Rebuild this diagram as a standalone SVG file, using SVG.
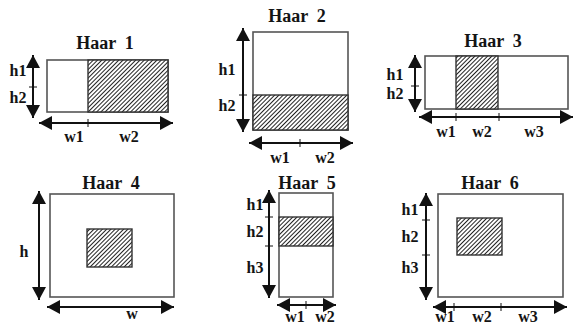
<svg xmlns="http://www.w3.org/2000/svg" width="574" height="326" viewBox="0 0 574 326">
<style>
text{font-family:"Liberation Serif","Times New Roman",serif;font-weight:bold;fill:#141414;text-anchor:middle}
.t{font-size:18px}
.l{font-size:16px}
.box{fill:#fff;stroke:#555;stroke-width:1.6}
.hat{fill:url(#hatch);stroke:#333;stroke-width:1.4}
.arr{stroke:#111;stroke-width:2;fill:none;marker-start:url(#ah);marker-end:url(#ah)}
.tk{stroke:#111;stroke-width:1}
</style>
<defs>
<pattern id="hatch" patternUnits="userSpaceOnUse" width="3" height="3" patternTransform="rotate(45)">
<rect width="3" height="3" fill="#fff"/>
<line x1="0.5" y1="0" x2="0.5" y2="3" stroke="#222" stroke-width="1"/>
</pattern>
<marker id="ah" markerUnits="userSpaceOnUse" markerWidth="14" markerHeight="14" refX="13" refY="7" orient="auto-start-reverse">
<path d="M0,0 L13,7 L0,14 Z" fill="#111"/>
</marker>
</defs>
<g id="haar1">
<text class="t" x="105" y="49" xml:space="preserve">Haar  1</text>
<rect class="box" x="47" y="60" width="121" height="52"/>
<rect class="hat" x="88" y="60" width="80" height="52"/>
</g>
<g id="haar2">
<text class="t" x="297" y="22" xml:space="preserve">Haar  2</text>
<rect class="box" x="253" y="32" width="95" height="98"/>
<rect class="hat" x="253" y="95" width="95" height="35"/>
</g>
<g id="haar3">
<text class="t" x="493" y="47" xml:space="preserve">Haar  3</text>
<rect class="box" x="425" y="56" width="143" height="53"/>
<rect class="hat" x="456" y="56" width="42" height="53"/>
</g>
<g id="haar4">
<text class="t" x="111" y="189" xml:space="preserve">Haar  4</text>
<rect class="box" x="50" y="194" width="124" height="103"/>
<rect class="hat" x="87" y="229" width="45" height="38"/>
</g>
<g id="haar5">
<text class="t" x="307" y="189" xml:space="preserve">Haar  5</text>
<rect class="box" x="279" y="193" width="54" height="104"/>
<rect class="hat" x="279" y="217" width="54" height="29"/>
</g>
<g id="haar6">
<text class="t" x="490" y="189" xml:space="preserve">Haar  6</text>
<rect class="box" x="438" y="194" width="125" height="103"/>
<rect class="hat" x="457" y="218" width="45" height="37"/>
</g>
<g id="connectors">
<line class="arr" x1="33" y1="55" x2="33" y2="118"/>
<line class="tk" x1="29" y1="87" x2="37" y2="87"/>
<line class="arr" x1="39" y1="123" x2="173" y2="123"/>
<line class="tk" x1="88" y1="119" x2="88" y2="127"/>

<line class="arr" x1="243" y1="28" x2="243" y2="132"/>
<line class="tk" x1="239" y1="95" x2="247" y2="95"/>
<line class="arr" x1="249" y1="143" x2="353" y2="143"/>
<line class="tk" x1="300" y1="139" x2="300" y2="147"/>

<line class="arr" x1="415" y1="55" x2="415" y2="112"/>
<line class="tk" x1="411" y1="86" x2="419" y2="86"/>
<line class="arr" x1="419" y1="117" x2="573" y2="117"/>
<line class="tk" x1="456" y1="113" x2="456" y2="121"/>
<line class="tk" x1="499" y1="113" x2="499" y2="121"/>

<line class="arr" x1="39" y1="191" x2="39" y2="300"/>
<line class="arr" x1="47" y1="307" x2="174" y2="307"/>

<line class="arr" x1="269" y1="190" x2="269" y2="298"/>
<line class="tk" x1="265" y1="217" x2="273" y2="217"/>
<line class="tk" x1="265" y1="246" x2="273" y2="246"/>
<line class="arr" x1="277" y1="305" x2="336" y2="305"/>
<line class="tk" x1="306" y1="301" x2="306" y2="309"/>

<line class="arr" x1="426" y1="193" x2="426" y2="300"/>
<line class="tk" x1="422" y1="220" x2="430" y2="220"/>
<line class="tk" x1="422" y1="255" x2="430" y2="255"/>
<line class="arr" x1="433" y1="307" x2="567" y2="307"/>
<line class="tk" x1="454" y1="303" x2="454" y2="311"/>
<line class="tk" x1="501" y1="303" x2="501" y2="311"/>
</g>
<g id="labels">
<text class="l" x="18" y="76">h1</text>
<text class="l" x="18" y="103">h2</text>
<text class="l" x="74" y="142">w1</text>
<text class="l" x="129" y="142">w2</text>

<text class="l" x="227" y="75">h1</text>
<text class="l" x="227" y="111">h2</text>
<text class="l" x="280" y="163">w1</text>
<text class="l" x="325" y="163">w2</text>

<text class="l" x="395" y="80">h1</text>
<text class="l" x="395" y="99">h2</text>
<text class="l" x="446" y="137">w1</text>
<text class="l" x="482" y="137">w2</text>
<text class="l" x="534" y="137">w3</text>

<text class="l" x="24" y="257">h</text>
<text class="l" x="132" y="319">w</text>

<text class="l" x="255" y="210">h1</text>
<text class="l" x="255" y="237">h2</text>
<text class="l" x="255" y="273">h3</text>
<text class="l" x="295" y="322">w1</text>
<text class="l" x="325" y="322">w2</text>

<text class="l" x="410" y="215">h1</text>
<text class="l" x="410" y="242">h2</text>
<text class="l" x="410" y="273">h3</text>
<text class="l" x="445" y="322">w1</text>
<text class="l" x="482" y="322">w2</text>
<text class="l" x="528" y="322">w3</text>
</g>
</svg>
